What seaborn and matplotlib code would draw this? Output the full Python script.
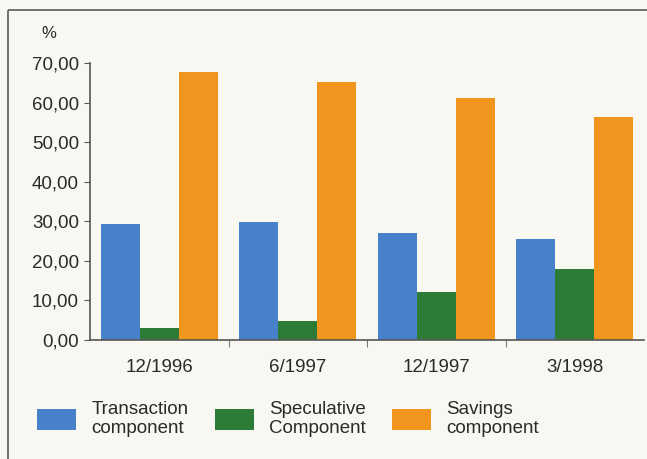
import matplotlib
matplotlib.use("Agg")
import matplotlib.pyplot as plt
from matplotlib.patches import Patch
from matplotlib.lines import Line2D
import seaborn as sns
import pandas as pd

# Money demand components (% share)
periods = ["12/1996", "6/1997", "12/1997", "3/1998"]
transaction = [29.3, 29.9, 27.0, 25.4]
speculative = [3.0, 4.9, 12.1, 17.9]
savings = [67.6, 65.3, 61.1, 56.3]
series_names = ["Transaction\ncomponent", "Speculative\nComponent", "Savings\ncomponent"]
y_ticks = [0, 10, 20, 30, 40, 50, 60, 70]
y_tick_labels = ["0,00", "10,00", "20,00", "30,00", "40,00", "50,00", "60,00", "70,00"]

colors = ["#4681c9", "#2e7a37", "#f0961f"]
bg = "#f8f7f1"

df = pd.DataFrame({
    "period": periods * 3,
    "component": [series_names[0]] * 4 + [series_names[1]] * 4 + [series_names[2]] * 4,
    "value": transaction + speculative + savings,
})

sns.set_theme(style="white")
plt.rcParams["font.family"] = ["Liberation Sans", "DejaVu Sans"]

fig = plt.figure(figsize=(6.47, 4.59), dpi=100, facecolor=bg)
ax = fig.add_axes([90 / 647, 1 - 340 / 459, 554 / 647, 277 / 459], facecolor=bg)

sns.barplot(data=df, x="period", y="value", hue="component", order=periods,
            hue_order=series_names, palette=colors, width=0.845, gap=0,
            saturation=1, edgecolor="none", legend=False, ax=ax)

ax.set_xlim(-0.5, 3.5)
ax.set_ylim(0, 70)
ax.set_xlabel("")
ax.set_ylabel("")
ax.set_yticks(y_ticks)
ax.set_yticklabels(y_tick_labels, fontsize=13.5, color="#2a2a2a")
ax.tick_params(axis="y", which="major", direction="out", length=4, width=0.8,
               color="#555555", left=True, pad=4)
ax.set_xticks(range(len(periods)))
ax.set_xticklabels(periods, fontsize=13.5, color="#2a2a2a")
ax.tick_params(axis="x", which="major", length=0, pad=14)
ax.set_xticks([0.5, 1.5, 2.5], minor=True)
ax.tick_params(axis="x", which="minor", direction="out", length=5, width=0.8,
               color="#777777", bottom=True)

ax.spines["top"].set_visible(False)
ax.spines["right"].set_visible(False)
for side in ["left", "bottom"]:
    ax.spines[side].set_color("#555555")
    ax.spines[side].set_linewidth(1.2)

ax.text(-0.075, 1.105, "%", transform=ax.transAxes, fontsize=12,
        color="#2a2a2a", ha="center", va="center")

# Outer frame: separate left and top edges
x0, y0 = 8 / 647, 1 - 10 / 459
fig.add_artist(Line2D([x0, x0], [-0.01, y0], transform=fig.transFigure,
                      color="#666666", linewidth=1.3, solid_capstyle="butt"))
fig.add_artist(Line2D([x0, 1.01], [y0, y0], transform=fig.transFigure,
                      color="#666666", linewidth=1.3, solid_capstyle="butt"))

handles = [Patch(facecolor=c, edgecolor="none") for c in colors]
fig.legend(handles, series_names, loc="upper left",
           bbox_to_anchor=(20 / 647, 1 - 384 / 459), ncol=3, frameon=False,
           fontsize=13.5, handlelength=2.1, handleheight=1.3,
           handletextpad=0.8, columnspacing=1.4, labelspacing=0.2,
           labelcolor="#2a2a2a")

fig.savefig("out.png", dpi=100, facecolor=bg)
